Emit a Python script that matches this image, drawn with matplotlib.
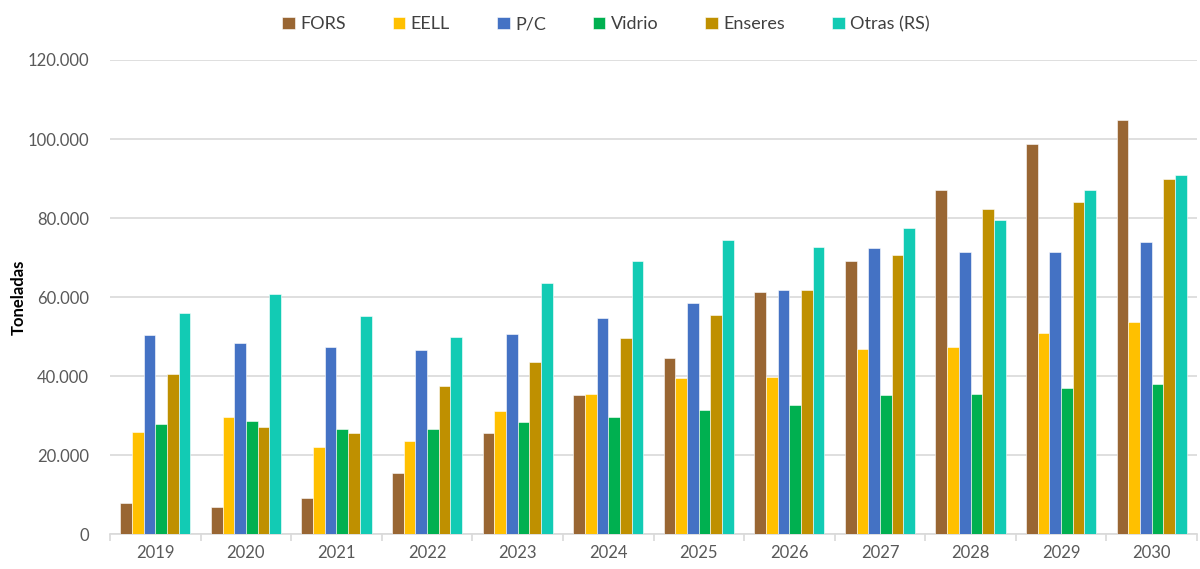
import matplotlib
matplotlib.use("Agg")
import matplotlib.pyplot as plt
import numpy as np
from matplotlib.ticker import FuncFormatter, FixedLocator

plt.rcParams['font.family'] = ['Lato', 'DejaVu Sans']

years = ["2019", "2020", "2021", "2022", "2023", "2024",
         "2025", "2026", "2027", "2028", "2029", "2030"]
series_names = ["FORS", "EELL", "P/C", "Vidrio", "Enseres", "Otras (RS)"]

fors = [8000, 7000, 9250, 15400, 25650, 35350, 44500, 61200, 69200, 87000, 98700, 104900]
eell = [25900, 29700, 22200, 23700, 31300, 35600, 39600, 39800, 46800, 47500, 50800, 53800]
pc = [50500, 48300, 47300, 46500, 50700, 54800, 58500, 61800, 72400, 71400, 71400, 73900]
vidrio = [28000, 28600, 26600, 26600, 28400, 29800, 31400, 32800, 35300, 35600, 37100, 38100]
enseres = [40500, 27100, 25600, 37600, 43600, 49600, 55500, 61800, 70700, 82300, 84100, 90000]
otras = [56000, 60700, 55300, 50000, 63500, 69200, 74400, 72700, 77600, 79400, 87000, 91000]

colors = ["#996633", "#FFC000", "#4472C4", "#00B050", "#BF9000", "#12CBB4"]
data = [fors, eell, pc, vidrio, enseres, otras]

fig = plt.figure(figsize=(12, 5.69), dpi=100)
ax = fig.add_axes([0.0917, 0.061, 0.9058, 0.8336])

x = np.arange(len(years))
n = len(data)
bw = 0.129
for i, (vals, c, name) in enumerate(zip(data, colors, series_names)):
    ax.bar(x + (i - (n - 1) / 2) * bw, vals, width=bw, color=c, label=name,
           edgecolor="white", linewidth=0.4, zorder=3)

ax.set_xlim(-0.5, len(years) - 0.5)
ax.set_ylim(0, 120000)
ax.set_yticks(np.arange(0, 120001, 20000))
ax.yaxis.set_major_formatter(FuncFormatter(lambda v, p: f"{int(v):,}".replace(",", ".")))
ax.grid(axis="y", color="#D9D9D9", linewidth=1.2, zorder=0)
ax.set_axisbelow(True)

for s in ["top", "right", "left"]:
    ax.spines[s].set_visible(False)
ax.spines["bottom"].set_color("#D9D9D9")
ax.spines["bottom"].set_linewidth(1.2)

ax.set_xticks(x)
ax.set_xticklabels(years)
ax.tick_params(axis="x", length=0, labelsize=12, labelcolor="#595959", pad=8)
ax.xaxis.set_minor_locator(FixedLocator(np.arange(-0.5, len(years), 1.0)))
ax.tick_params(axis="x", which="minor", length=5, color="#D9D9D9", width=1.2)
ax.tick_params(axis="y", length=0, labelsize=12, labelcolor="#595959", pad=15)

ax.set_ylabel("Toneladas", fontsize=12, fontweight="bold", color="black")
ax.yaxis.set_label_coords(-0.077, 0.5)

leg = fig.legend(loc="upper center", bbox_to_anchor=(0.505, 1.0), ncol=6, frameon=False,
                 fontsize=13, handlelength=0.7, handleheight=0.7, handletextpad=0.3,
                 columnspacing=2.6, labelcolor="#404040")

fig.savefig("out.png", dpi=100)
